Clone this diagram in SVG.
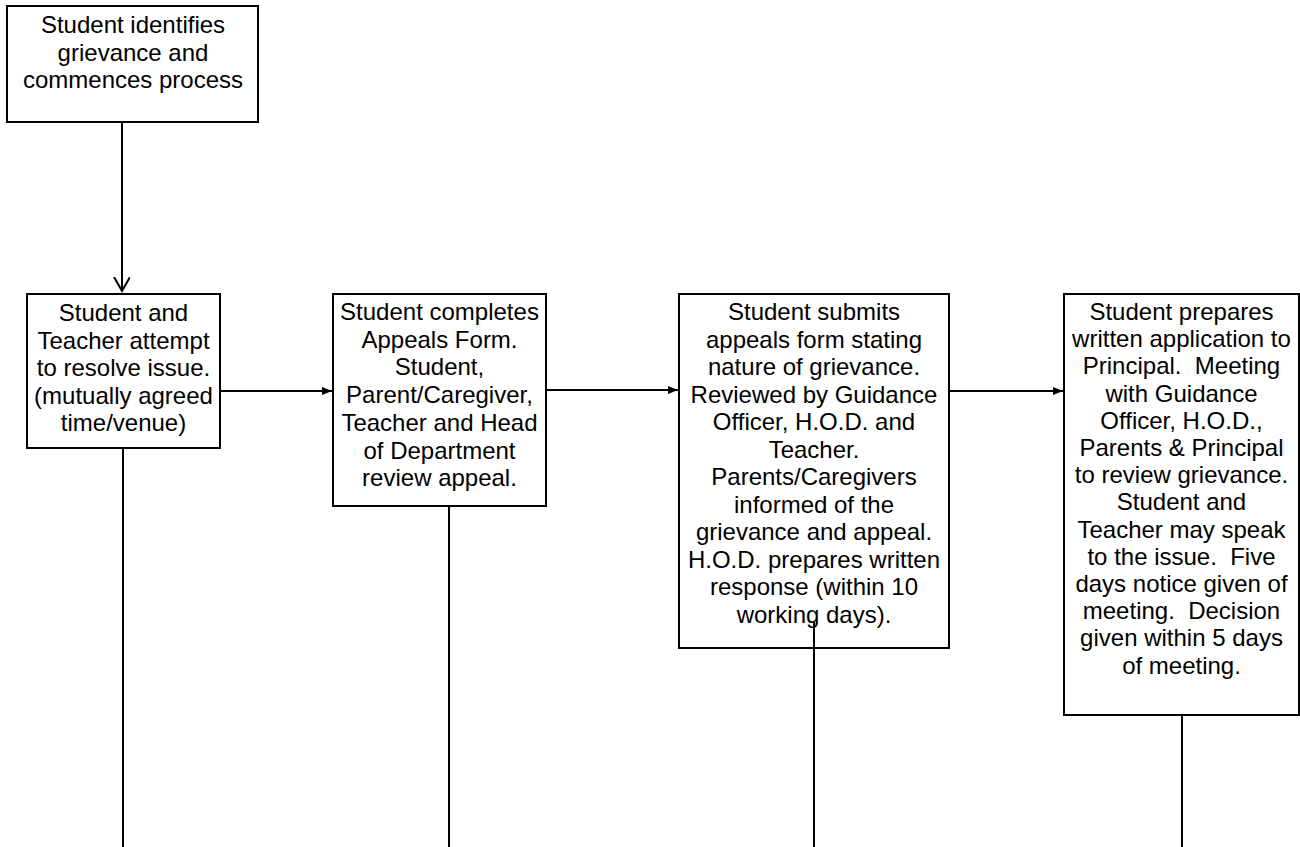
<svg xmlns="http://www.w3.org/2000/svg" width="1300" height="847" viewBox="0 0 1300 847">
<style>
.box{fill:#fff;stroke:#000;stroke-width:2}
.t{font-family:"Liberation Sans",Arial,sans-serif;font-size:24px;fill:#000;text-anchor:middle;white-space:pre}
.ln{stroke:#000;stroke-width:2;fill:none}
</style>
<defs>
<marker id="open" markerWidth="20" markerHeight="20" refX="14" refY="8" orient="auto" markerUnits="userSpaceOnUse">
<path d="M0,0 L14,8 L0,16" fill="none" stroke="#000" stroke-width="2"/>
</marker>
<marker id="fill" markerWidth="12" markerHeight="10" refX="10" refY="4" orient="auto" markerUnits="userSpaceOnUse">
<path d="M0,0 L10,4 L0,8 Z" fill="#000"/>
</marker>
</defs>
<g id="connectors">
<line class="ln" x1="122" y1="122" x2="122" y2="291" marker-end="url(#open)"/>
<line class="ln" x1="220" y1="391" x2="332" y2="391" marker-end="url(#fill)"/>
<line class="ln" x1="546" y1="390" x2="678" y2="390" marker-end="url(#fill)"/>
<line class="ln" x1="949" y1="391" x2="1063" y2="391" marker-end="url(#fill)"/>
<line class="ln" x1="123" y1="448" x2="123" y2="847"/>
<line class="ln" x1="449" y1="506" x2="449" y2="847"/>
<line class="ln" x1="1182" y1="715" x2="1182" y2="847"/>
</g>
<g id="n1">
<rect class="box" x="7" y="6" width="251" height="116"/>
<text class="t" x="133" y="33">Student identifies</text>
<text class="t" x="133" y="61">grievance and</text>
<text class="t" x="133" y="88">commences process</text>
</g>
<g id="n2">
<rect class="box" x="27" y="294" width="193" height="154"/>
<text class="t" x="123.5" y="321">Student and</text>
<text class="t" x="123.5" y="348.5">Teacher attempt</text>
<text class="t" x="123.5" y="376">to resolve issue.</text>
<text class="t" x="123.5" y="403.5">(mutually agreed</text>
<text class="t" x="123.5" y="431">time/venue)</text>
</g>
<g id="n3">
<rect class="box" x="333" y="294" width="213" height="212"/>
<text class="t" x="439.5" y="320">Student completes</text>
<text class="t" x="439.5" y="347.7">Appeals Form.</text>
<text class="t" x="439.5" y="375.4">Student,</text>
<text class="t" x="439.5" y="403.1">Parent/Caregiver,</text>
<text class="t" x="439.5" y="430.8">Teacher and Head</text>
<text class="t" x="439.5" y="458.5">of Department</text>
<text class="t" x="439.5" y="486.2">review appeal.</text>
</g>
<g id="n4">
<rect class="box" x="679" y="294" width="270" height="354"/>
<text class="t" x="814" y="320">Student submits</text>
<text class="t" x="814" y="347.5">appeals form stating</text>
<text class="t" x="814" y="375">nature of grievance.</text>
<text class="t" x="814" y="402.5">Reviewed by Guidance</text>
<text class="t" x="814" y="430">Officer, H.O.D. and</text>
<text class="t" x="814" y="457.5">Teacher.</text>
<text class="t" x="814" y="485">Parents/Caregivers</text>
<text class="t" x="814" y="512.5">informed of the</text>
<text class="t" x="814" y="540">grievance and appeal.</text>
<text class="t" x="814" y="567.5">H.O.D. prepares written</text>
<text class="t" x="814" y="595">response (within 10</text>
<text class="t" x="814" y="622.5">working days).</text>
</g>
<line class="ln" x1="814" y1="621" x2="814" y2="847"/>
<g id="n5">
<rect class="box" x="1064" y="294" width="235" height="421"/>
<text class="t" x="1181.5" y="320">Student prepares</text>
<text class="t" x="1181.5" y="347.2">written application to</text>
<text class="t" x="1181.5" y="374.4">Principal.  Meeting</text>
<text class="t" x="1181.5" y="401.6">with Guidance</text>
<text class="t" x="1181.5" y="428.8">Officer, H.O.D.,</text>
<text class="t" x="1181.5" y="456">Parents &amp; Principal</text>
<text class="t" x="1181.5" y="483.2">to review grievance.</text>
<text class="t" x="1181.5" y="510.4">Student and</text>
<text class="t" x="1181.5" y="537.6">Teacher may speak</text>
<text class="t" x="1181.5" y="564.8">to the issue.  Five</text>
<text class="t" x="1181.5" y="592">days notice given of</text>
<text class="t" x="1181.5" y="619.2">meeting.  Decision</text>
<text class="t" x="1181.5" y="646.4">given within 5 days</text>
<text class="t" x="1181.5" y="673.6">of meeting.</text>
</g>
</svg>
